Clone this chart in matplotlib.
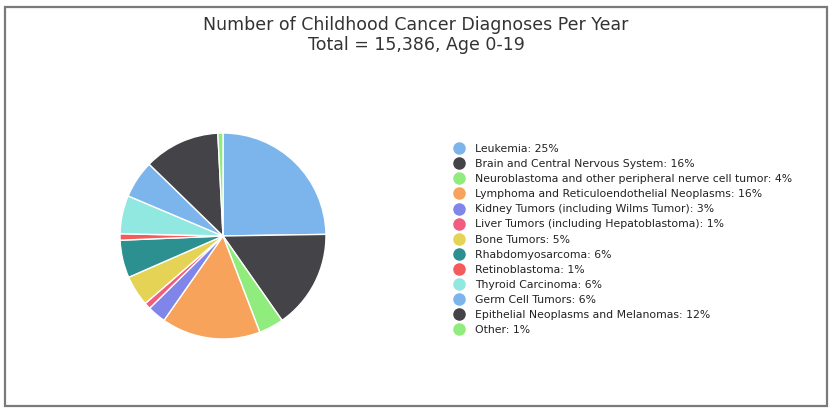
import matplotlib
matplotlib.use('Agg')
import matplotlib.pyplot as plt
from matplotlib.lines import Line2D
from matplotlib.patches import Rectangle

# Datos (porcentaje aproximado de cada porcion)
categorias = ['Leukemia', 'Brain and Central Nervous System',
              'Neuroblastoma and other peripheral nerve cell tumor',
              'Lymphoma and Reticuloendothelial Neoplasms',
              'Kidney Tumors (including Wilms Tumor)',
              'Liver Tumors (including Hepatoblastoma)', 'Bone Tumors',
              'Rhabdomyosarcoma', 'Retinoblastoma', 'Thyroid Carcinoma',
              'Germ Cell Tumors', 'Epithelial Neoplasms and Melanomas', 'Other']
valores = [24.7, 15.5, 3.9, 15.5, 2.9, 1.0, 4.8, 5.9, 1.0, 6.0, 5.9, 11.9, 0.8]
etiquetas_pct = [25, 16, 4, 16, 3, 1, 5, 6, 1, 6, 6, 12, 1]

colores = ['#7cb5ec', '#434348', '#90ed7d', '#f7a35c', '#8085e9', '#f15c80',
           '#e4d354', '#2b908f', '#f45b5b', '#91e8e1', '#7cb5ec', '#434348',
           '#90ed7d']

W, H = 832, 412
fig = plt.figure(figsize=(W / 100, H / 100), dpi=100)
fig.patch.set_facecolor('white')

# Marco gris alrededor del grafico
fig.patches.append(Rectangle((5 / W, 6 / H), 822 / W, 399 / H, transform=fig.transFigure,
                             fill=False, edgecolor='#7a7a7a', linewidth=1.6))

# Titulo
fig.text(416 / W, 1 - 25 / H, 'Number of Childhood Cancer Diagnoses Per Year',
         ha='center', va='center', fontsize=12.5, color='#333333')
fig.text(416 / W, 1 - 45 / H, 'Total = 15,386, Age 0-19',
         ha='center', va='center', fontsize=12.5, color='#333333')

# Torta
cx, cy, r = 223, 236, 104
ax = fig.add_axes([(cx - r) / W, (H - cy - r) / H, 2 * r / W, 2 * r / H])
ax.pie(valores, colors=colores, startangle=90, counterclock=False,
       wedgeprops=dict(edgecolor='white', linewidth=1.0))
ax.set_xlim(-1.01, 1.01)
ax.set_ylim(-1.01, 1.01)
ax.set_aspect('equal')
ax.axis('off')

# Leyenda
handles = [Line2D([], [], marker='o', linestyle='', markersize=8,
                  markerfacecolor=c, markeredgecolor=c) for c in colores]
labels = [f'{n}: {p}%' for n, p in zip(categorias, etiquetas_pct)]
fig.legend(handles, labels, loc='upper left', bbox_to_anchor=(454 / W, 1 - 144 / H),
           frameon=False, fontsize=7.8, labelspacing=0.47, handletextpad=0.9,
           handlelength=1.0, borderpad=0, borderaxespad=0, labelcolor='#222222')

plt.savefig('out.png', dpi=100)
